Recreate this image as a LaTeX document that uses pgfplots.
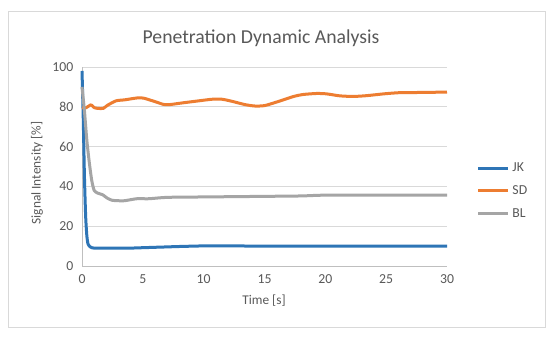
\documentclass[border=0pt]{standalone}
\usepackage{pgfplots}
\pgfplotsset{compat=1.18}
\usepackage{fontspec}
\setmainfont{Carlito}
\definecolor{cJK}{HTML}{2E75B6}
\definecolor{cSD}{HTML}{ED7D31}
\definecolor{cBL}{HTML}{A5A5A5}
\definecolor{txt}{HTML}{595959}
\definecolor{gridc}{HTML}{D9D9D9}
\begin{document}
\begin{tikzpicture}[x=0.75pt,y=0.75pt]
\useasboundingbox (0,0) rectangle (550,340);
\draw[draw=gridc,fill=white,line width=0.75pt] (8,13) rectangle (545,328);
\node[text=txt,font=\fontsize{14.8}{17}\selectfont] at (261,302) {Penetration Dynamic Analysis};
\node[text=txt,font=\fontsize{10}{12}\selectfont] at (264,39) {Time [s]};
\node[text=txt,font=\fontsize{10}{12}\selectfont,rotate=90] at (37,167) {Signal Intensity [\%]};
\begin{axis}[
  at={(61.5pt,55.5pt)}, anchor=origin,
  scale only axis, width=273.75pt, height=149.25pt,
  xmin=0, xmax=30, ymin=0, ymax=100,
  xtick={0,5,...,30}, ytick={0,20,...,100},
  major tick length=0pt,
  axis x line*=bottom, axis y line*=left,
  axis line style={draw=black!25, line width=0.75pt, -},
  ymajorgrids, grid style={draw=gridc, line width=0.75pt},
  /pgf/number format/assume math mode=true,
  tick label style={text=txt, font=\fontsize{10.3}{12}\selectfont},
  yticklabel style={xshift=-3pt},
  xticklabel style={yshift=-3pt},
  clip=false,
  legend style={at={(1.07,0.377)}, anchor=west, draw=none, fill=none,
    text=txt, font=\fontsize{10.3}{12}\selectfont, row sep=5pt,
    /tikz/every odd column/.append style={column sep=0pt}},
  legend cell align=left,
  legend image code/.code={\draw[#1, line width=2.25pt] (0pt,0pt) -- (22.5pt,0pt);},
  every axis plot/.append style={line width=2.25pt, line join=round, smooth, tension=0.4},
]
\addplot[cJK] coordinates {
(0,98) (0.1,75) (0.2,45) (0.3,25) (0.4,15) (0.5,11) (0.7,9.5) (1,9) (2,9) (3,9) (4,9)
(5,9.2) (6,9.4) (7,9.6) (8,9.8) (10,10.1) (12,10.1) (15,10) (20,10) (25,10) (30,10)
};
\addlegendentry{JK}
\addplot[cSD] coordinates {
(0,79.5) (0.33,79.5) (0.74,81) (1.0,79.6) (1.3,79.2) (1.75,79.2) (2.1,80.8) (2.8,83) (3.5,83.5)
(4.6,84.5) (5.1,84.3) (6,82.6) (6.7,81.2) (7.2,81.1) (8.3,82) (9.6,83) (10.7,83.8) (11.5,83.8)
(12.3,82.8) (13.4,81.1) (14.2,80.4) (15,80.6) (16,82.4) (17.4,85.2) (18.2,86.2) (19.3,86.7)
(20.1,86.5) (21.2,85.5) (22.3,85.2) (23.4,85.6) (24.8,86.5) (26.1,87.1) (27.8,87.2) (30,87.4)
};
\addlegendentry{SD}
\addplot[cBL] coordinates {
(0,90) (0.2,78) (0.4,63) (0.6,52) (0.8,43) (1.0,38) (1.3,36.6) (1.7,35.8) (2.1,34) (2.5,33)
(3.0,32.8) (3.5,32.8) (4.5,33.8) (5.5,33.8) (7,34.5) (10,34.7) (15,35) (18,35.2) (20,35.6) (25,35.6) (30,35.6)
};
\addlegendentry{BL}
\end{axis}
\end{tikzpicture}
\end{document}
